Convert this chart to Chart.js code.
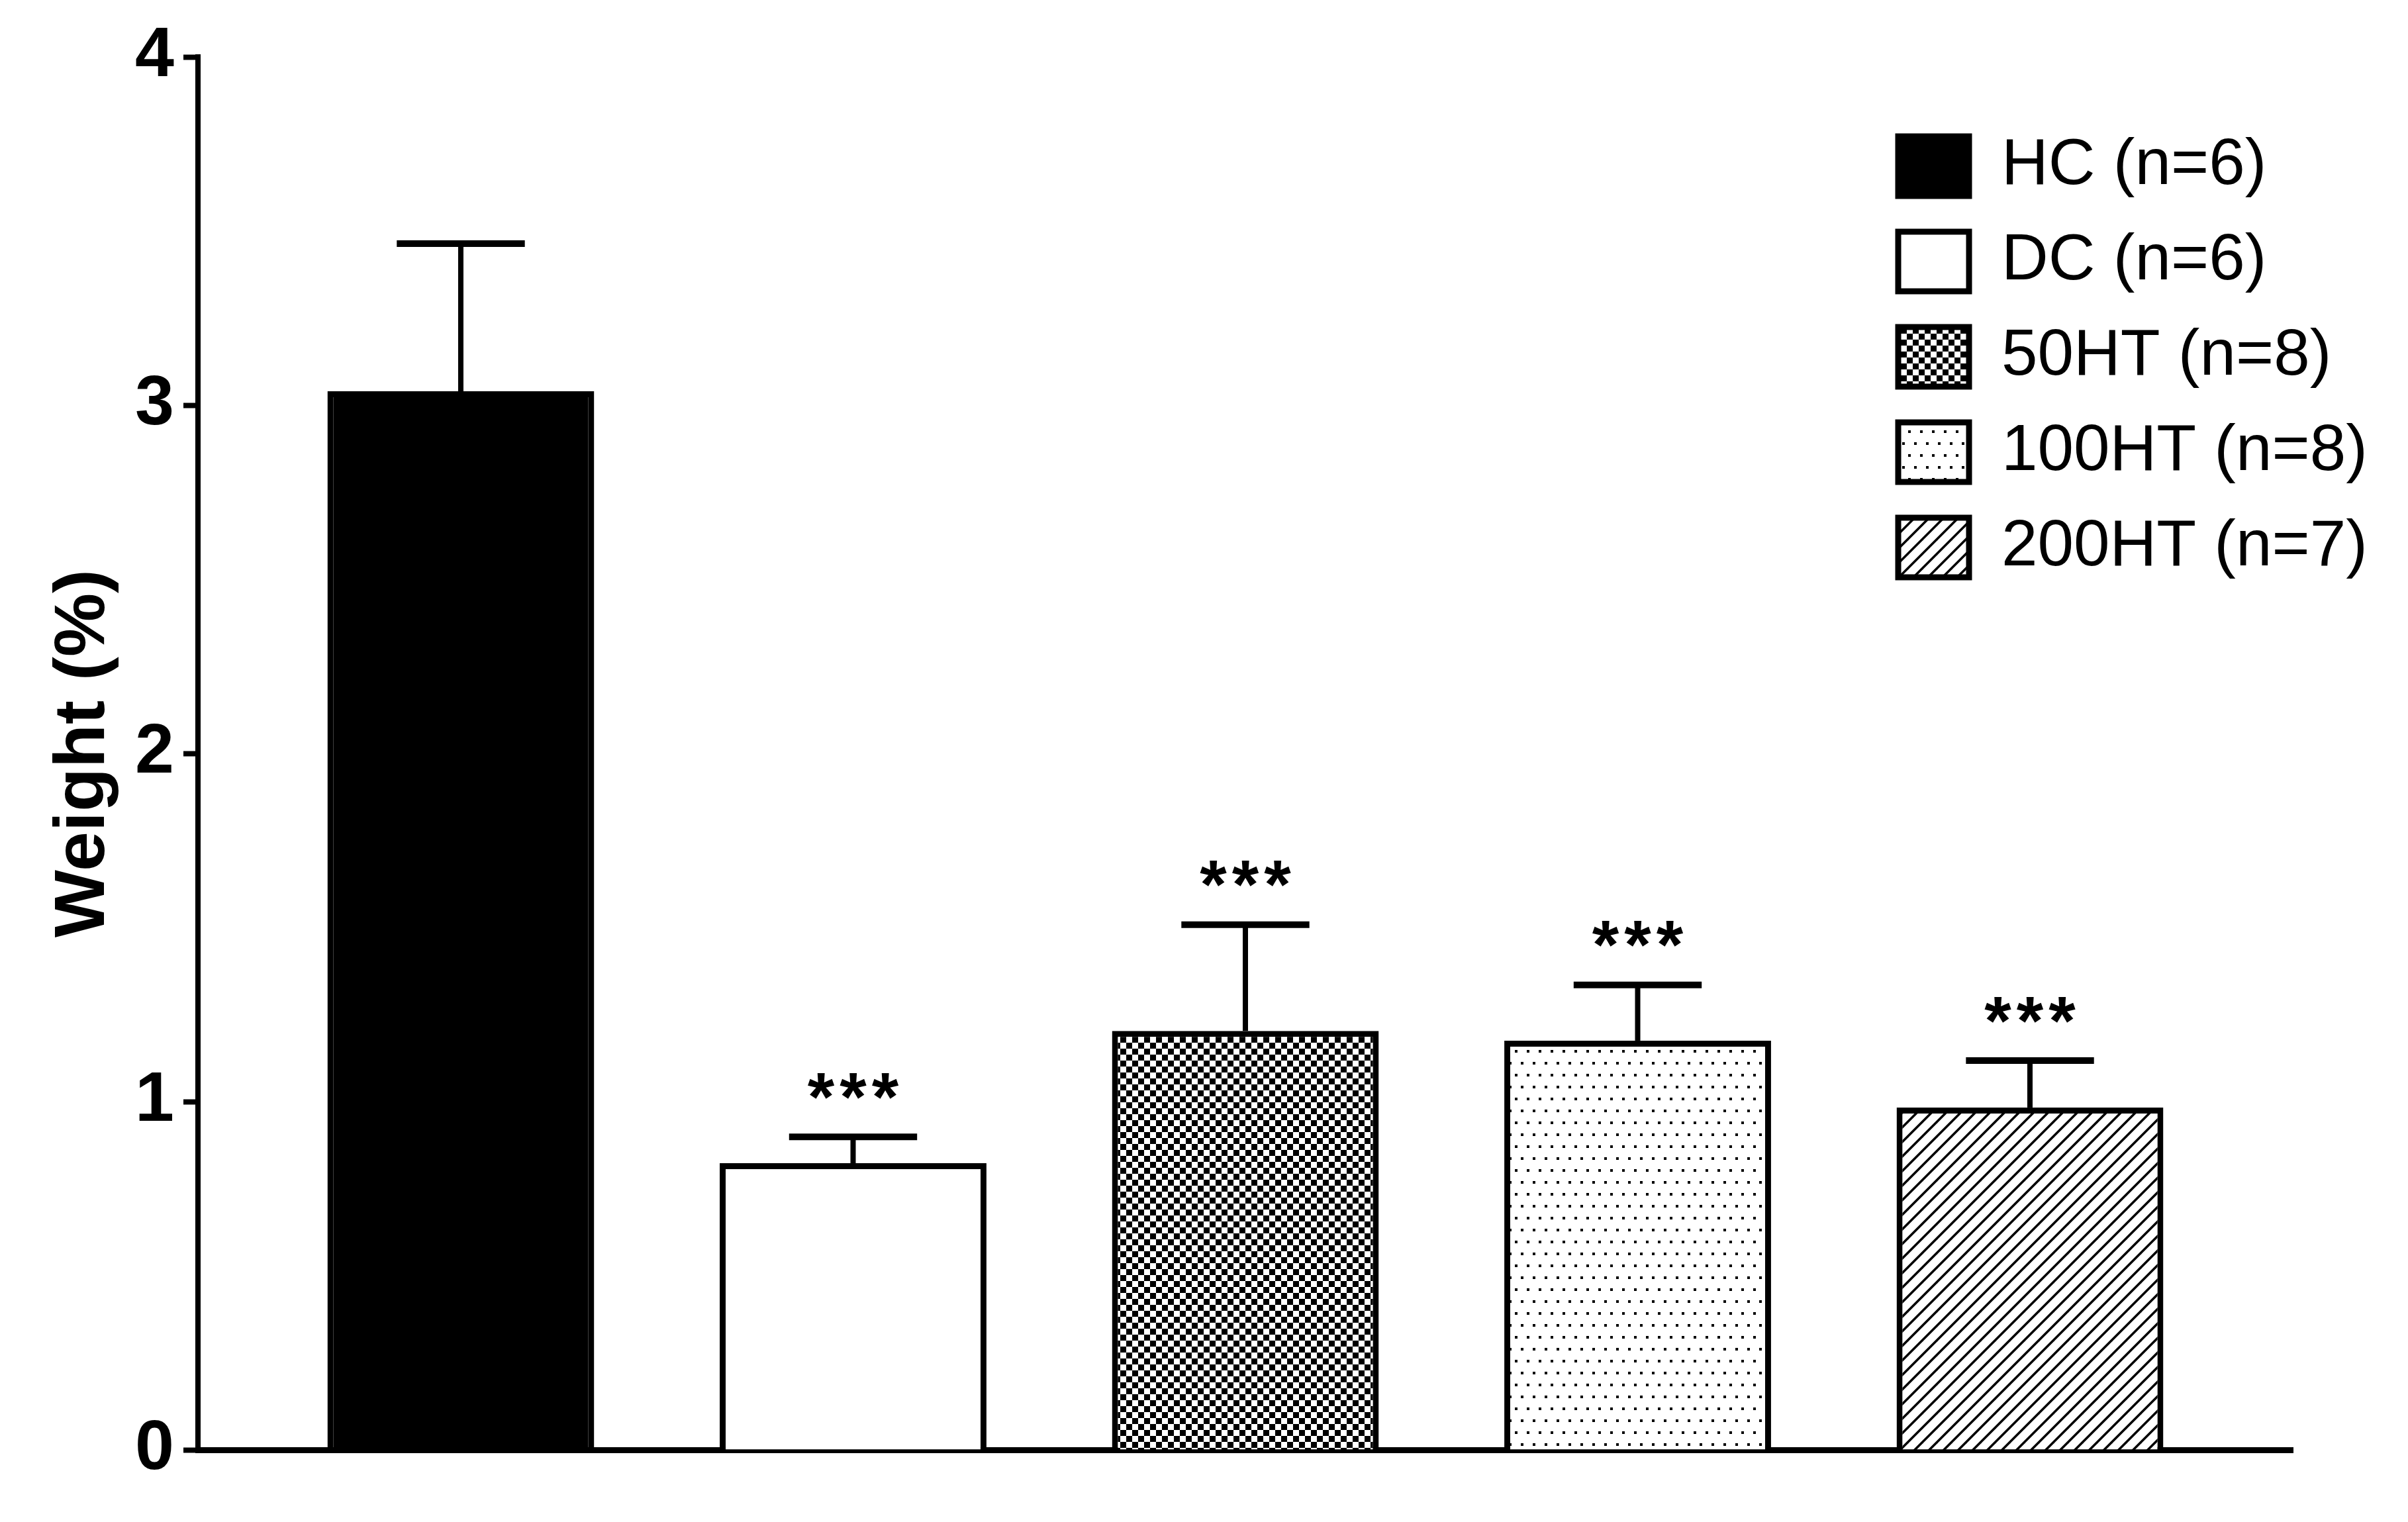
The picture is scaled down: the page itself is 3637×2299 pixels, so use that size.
<!DOCTYPE html>
<html>
<head>
<meta charset="utf-8">
<script src="https://cdn.jsdelivr.net/npm/chart.js@4.4.1/dist/chart.umd.min.js"></script>
<style>
    html, body { margin: 0; padding: 0; background: #fff; }
    #grafico { display: block; }
</style>
</head>
<body>
<canvas id="grafico" width="3637" height="2299"></canvas>
<script>
// ==================== DATOS ====================
const grupos = ['HC', 'DC', '50HT', '100HT', '200HT'];
const nGrupo = [6, 6, 8, 8, 7];
const pesoMedio = [3.04, 0.823, 1.203, 1.175, 0.983];
const pesoError = [0.424, 0.076, 0.305, 0.160, 0.135];
const significancia = ['', '***', '***', '***', '***'];
const ticksY = [0, 1, 2, 3, 4];

const FUENTE = "'Liberation Sans', Arial, sans-serif";
Chart.defaults.font.family = FUENTE;
Chart.defaults.color = '#000';

// Patrones de relleno (cuadros, puntos, rayas)
function crearPatron(tipo) {
    const c = document.createElement('canvas');
    const g = c.getContext('2d');
    if (tipo === 'cuadros') {
        c.width = 18; c.height = 18;
        g.fillStyle = '#fff'; g.fillRect(0, 0, 18, 18);
        g.fillStyle = '#000';
        g.fillRect(0, 0, 9, 9);
        g.fillRect(9, 9, 9, 9);
    } else if (tipo === 'puntos') {
        c.width = 18; c.height = 36;
        g.fillStyle = '#fff'; g.fillRect(0, 0, 18, 36);
        g.fillStyle = '#000';
        g.fillRect(2, 2, 4, 4);
        g.fillRect(11, 20, 4, 4);
    } else {
        c.width = 22; c.height = 22;
        g.fillStyle = '#fff'; g.fillRect(0, 0, 22, 22);
        g.strokeStyle = '#000';
        g.lineWidth = 3.5;
        [[-11, 11, 11, -11], [0, 22, 22, 0], [11, 33, 33, 11]].forEach(l => {
            g.beginPath();
            g.moveTo(l[0], l[1]);
            g.lineTo(l[2], l[3]);
            g.stroke();
        });
    }
    return g.createPattern(c, 'repeat');
}

const rellenos = ['#000', '#fff', crearPatron('cuadros'), crearPatron('puntos'), crearPatron('rayas')];

// Barras de error + asteriscos
const barrasError = {
    id: 'barrasError',
    afterDatasetsDraw(chart) {
        const ctx = chart.ctx;
        const y = chart.scales.y;
        const meta = chart.getDatasetMeta(0);
        ctx.save();
        ctx.strokeStyle = '#000';
        ctx.fillStyle = '#000';
        meta.data.forEach((barra, i) => {
            const yTope = y.getPixelForValue(pesoMedio[i] + pesoError[i]);
            const semi = barra.width * 0.24;
            ctx.lineWidth = 8;
            ctx.beginPath();
            ctx.moveTo(barra.x, barra.y);
            ctx.lineTo(barra.x, yTope);
            ctx.stroke();
            ctx.lineWidth = 10;
            ctx.beginPath();
            ctx.moveTo(barra.x - semi, yTope);
            ctx.lineTo(barra.x + semi, yTope);
            ctx.stroke();
            if (significancia[i]) {
                ctx.font = 'bold 104px ' + FUENTE;
                ctx.letterSpacing = '8px';
                ctx.textAlign = 'center';
                ctx.textBaseline = 'middle';
                ctx.fillText(significancia[i], barra.x + 4, yTope - 53);
            }
        });
        ctx.restore();
    }
};

// Leyenda arriba a la derecha, dentro del área
const posicionLeyenda = {
    id: 'posicionLeyenda',
    afterLayout(chart) {
        const ley = chart.legend;
        ley.left = chart.chartArea.right - 642;
        ley.top = chart.chartArea.top + 70;
        ley.right = chart.width;
        ley.bottom = ley.top + ley.height;
    }
};

new Chart(document.getElementById('grafico'), {
    type: 'bar',
    data: {
        datasets: [{
            label: 'Weight (%)',
            data: grupos.map((g, i) => ({ x: i + 1, y: pesoMedio[i] })),
            backgroundColor: rellenos,
            borderColor: '#000',
            borderWidth: 9,
            borderSkipped: 'start',
            barPercentage: 0.68,
            categoryPercentage: 1
        }]
    },
    options: {
        responsive: false,
        animation: false,
        devicePixelRatio: 1,
        layout: { padding: { left: 0, top: 86, right: 174, bottom: 109 } },
        plugins: {
            tooltip: { enabled: false },
            legend: {
                position: 'chartArea',
                align: 'start',
                labels: {
                    color: '#000',
                    font: { size: 98 },
                    boxWidth: 107,
                    boxHeight: 90,
                    padding: 46,
                    generateLabels: () => grupos.map((g, i) => ({
                        text: g + ' (n=' + nGrupo[i] + ')',
                        fillStyle: rellenos[i],
                        strokeStyle: '#000',
                        lineWidth: 9,
                        hidden: false,
                        datasetIndex: 0,
                        index: i
                    }))
                }
            }
        },
        scales: {
            x: {
                type: 'linear',
                offset: false,
                min: 0.33,
                max: 5.67,
                afterBuildTicks: s => { s.ticks = grupos.map((g, i) => ({ value: i + 1 })); },
                ticks: { display: false },
                grid: { display: true, offset: false, drawOnChartArea: false, drawTicks: false },
                border: { display: true, color: '#000', width: 9 },
                afterFit: s => { s.height = 0; }
            },
            y: {
                min: 0,
                max: 4,
                afterBuildTicks: s => { s.ticks = ticksY.map(v => ({ value: v })); },
                ticks: {
                    color: '#000',
                    padding: 14,
                    font: { size: 106, weight: 'bold' }
                },
                grid: {
                    drawOnChartArea: false,
                    drawTicks: true,
                    tickLength: 22,
                    tickWidth: 8,
                    tickColor: '#000'
                },
                border: { display: true, color: '#000', width: 8 },
                title: {
                    display: true,
                    text: 'Weight (%)',
                    color: '#000',
                    font: { size: 108, weight: 'bold' },
                    padding: { top: 62, bottom: 0 }
                },
                afterFit: s => { s.width = 299; }
            }
        }
    },
    plugins: [barrasError, posicionLeyenda]
});
</script>
</body>
</html>
